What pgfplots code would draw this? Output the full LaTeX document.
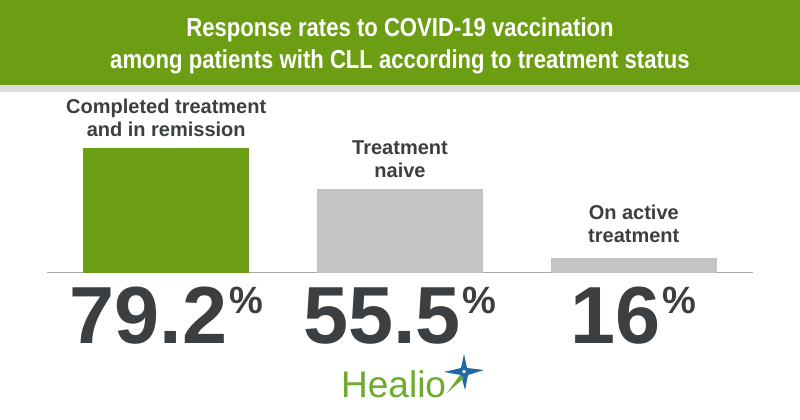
\documentclass[border=0pt]{standalone}
\usepackage{pgfplots}
\pgfplotsset{compat=1.18}
\usepackage{fontspec}
\setmainfont{Liberation Sans}
\newfontfamily\condfont[FakeStretch=0.85]{Liberation Sans}
\definecolor{hgreen}{HTML}{6B9E12}
\definecolor{bgray}{HTML}{C4C4C4}
\definecolor{tdark}{HTML}{3B3F42}
\definecolor{lgray}{HTML}{DCDCDC}
\definecolor{axgray}{HTML}{A8A8A8}
\definecolor{hblue}{HTML}{1F6AA5}
\definecolor{logogreen}{HTML}{6CAB2B}
\newcommand\pct{\hspace{2pt}\raisebox{30pt}{\fontsize{38}{38}\selectfont\%}}
\begin{document}
\begin{tikzpicture}
\useasboundingbox (0pt,0pt) rectangle (800pt,420pt);
\fill[white] (0pt,0pt) rectangle (800pt,420pt);
\fill[hgreen] (0pt,335pt) rectangle (800pt,420pt);
\fill[lgray] (0pt,328pt) rectangle (800pt,335pt);
\node[align=center, text=white, font=\condfont\bfseries\fontsize{26}{32}\selectfont] at (400pt,374pt) {Response rates to COVID-19 vaccination\\among patients with CLL according to treatment status};
\begin{axis}[at={(47pt,147pt)}, anchor=south west, scale only axis,
  width=706pt, height=125pt,
  xmin=-0.51, xmax=2.51, ymin=7.4, ymax=79.2,
  axis x line=bottom, axis y line=none,
  axis line style={-, draw=axgray, line width=1pt},
  xtick={0,1,2}, major tick length=0pt, ytick=\empty,
  xticklabels={{79.2\pct},{55.5\pct},{16\pct}},
  xticklabel style={anchor=base, yshift=-71pt, inner sep=0pt, text=tdark, font=\bfseries\fontsize{81}{81}\selectfont},
  ybar, bar width=166pt]
\addplot[fill=hgreen, draw=none, bar shift=0pt] coordinates {(0,79.2)};
\addplot[fill=bgray, draw=none, bar shift=0pt] coordinates {(1,55.5)};
\addplot[fill=bgray, draw=none, bar shift=0pt] coordinates {(2,16)};
\coordinate (b0) at (axis cs:0,79.2);
\coordinate (b1) at (axis cs:1,55.5);
\coordinate (b2) at (axis cs:2,16);
\end{axis}
\begin{scope}[every node/.style={align=center, text=tdark, anchor=south, inner sep=0pt, font=\bfseries\fontsize{20}{23}\selectfont}]
\node[yshift=11pt] at (b0) {Completed treatment\\and in remission};
\node[yshift=11pt] at (b1) {Treatment\\naive};
\node[yshift=15pt] at (b2) {On active\\treatment};
\end{scope}
\begin{scope}[x=1pt,y=1pt]
\node[text=logogreen, font=\fontsize{37}{37}\selectfont, anchor=base west, inner sep=0pt] at (341,22) {Healio};
\fill[hblue] (464,66) -- (467,52) -- (484,50) -- (468,45) -- (465,30) -- (461,45) -- (444,48) -- (461,52) -- cycle;
\fill[logogreen] (460,45) -- (447,27) -- (464,42) -- cycle;
\fill[white] (464,48.5) circle (1.8);
\end{scope}
\end{tikzpicture}
\end{document}
